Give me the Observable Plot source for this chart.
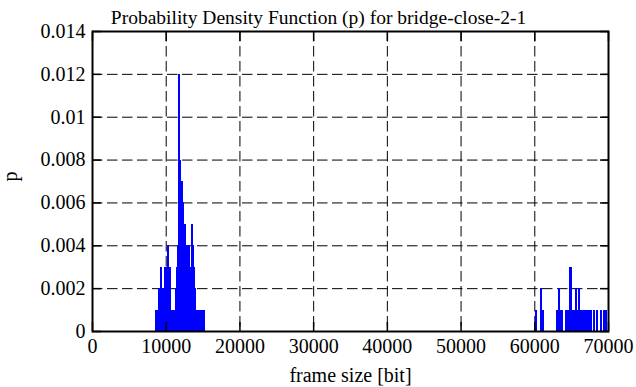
<!DOCTYPE html>
<html>
<head>
<meta charset="utf-8">
<script src="https://cdn.jsdelivr.net/npm/d3@7"></script>
<script src="https://cdn.jsdelivr.net/npm/@observablehq/plot@0.6"></script>
<style>
  html, body { margin: 0; padding: 0; background: #fff; }
  svg text { font-family: 'Liberation Serif', 'Times New Roman', serif !important; }
</style>
</head>
<body>
<div id="chart"></div>
<script>
const titleText = "Probability Density Function (p) for bridge-close-2-1";
const xLabel = "frame size [bit]";
const yLabel = "p";
const xTicks = [0, 10000, 20000, 30000, 40000, 50000, 60000, 70000];
const yTicks = [0, 0.002, 0.004, 0.006, 0.008, 0.010, 0.012, 0.014];

// histogram bins: lower edge, upper edge (bit), probability
const binLo = [8550, 8950, 9225, 9500, 9770, 10175, 10450, 10720, 11260, 11400, 11530, 11630, 11940, 12075, 12345, 12480, 12750, 13300, 13430, 13700, 13840, 13970, 14110,
               60100, 60775, 61050, 62950, 63220, 63490, 64170, 64710, 65120, 65520, 65800, 65930, 66200, 67970, 68370, 68920, 69320];
const binHi = [8950, 9225, 9500, 9770, 10175, 10450, 10720, 11260, 11400, 11530, 11630, 11940, 12075, 12345, 12480, 12750, 13300, 13430, 13700, 13840, 13970, 14110, 15330,
               60370, 61050, 61320, 63220, 63490, 63900, 64710, 65120, 65520, 65800, 65930, 66200, 67830, 68240, 68640, 69190, 69860];
const prob  = [0.001, 0.002, 0.003, 0.002, 0.003, 0.004, 0.003, 0.001, 0.002, 0.003, 0.004, 0.012, 0.008, 0.007, 0.006, 0.005, 0.004, 0.003, 0.005, 0.004, 0.003, 0.002, 0.001,
               0.001, 0.002, 0.001, 0.001, 0.002, 0.001, 0.001, 0.003, 0.001, 0.002, 0.001, 0.002, 0.001, 0.001, 0.001, 0.001, 0.001];

const bins = binLo.map((lo, i) => ({lo, hi: binHi[i], p: prob[i]}));
const yFmt = d => d === 0 ? "0" : String(+d.toFixed(3));
const xFmt = d3.format("d");
const gridX = xTicks.slice(1, -1);
const gridY = yTicks.slice(1, -1);
const serif = "'Liberation Serif', 'Times New Roman', serif";

const chart = Plot.plot({
  width: 636,
  height: 387,
  marginLeft: 92,
  marginRight: 28,
  marginTop: 31,
  marginBottom: 56,
  style: {fontFamily: serif, fontSize: "20px", background: "#fff", color: "#000"},
  x: {domain: [0, 70000], axis: null},
  y: {domain: [0, 0.014], axis: null},
  marks: [
    Plot.ruleX(gridX, {stroke: "#000", strokeWidth: 1, strokeDasharray: "10.5,4.5"}),
    Plot.ruleY(gridY, {stroke: "#000", strokeWidth: 1, strokeDasharray: "10.5,4.5"}),
    Plot.rectY(bins, {x1: "lo", x2: "hi", y: "p", fill: "#0000ff", inset: 0, shapeRendering: "crispEdges"}),
    Plot.text(xTicks, {x: d => d, text: xFmt, frameAnchor: "bottom", lineAnchor: "top", dy: 7, fontSize: 20, fontFamily: serif, fill: "#000"}),
    Plot.text(yTicks, {y: d => d, text: yFmt, frameAnchor: "left", textAnchor: "end", dx: -7, fontSize: 20, fontFamily: serif, fill: "#000"}),
    Plot.axisX({anchor: "bottom", ticks: xTicks, tickSize: -9, tickFormat: () => "", strokeWidth: 1.5, label: null}),
    Plot.axisX({anchor: "top", ticks: xTicks, tickSize: -9, tickFormat: () => "", strokeWidth: 1.5, label: null}),
    Plot.axisY({anchor: "left", ticks: yTicks, tickSize: -9, tickFormat: () => "", strokeWidth: 1.5, label: null}),
    Plot.axisY({anchor: "right", ticks: yTicks, tickSize: -9, tickFormat: () => "", strokeWidth: 1.5, label: null}),
    Plot.frame({stroke: "#000", strokeWidth: 2}),
    Plot.text([titleText], {frameAnchor: "top", lineAnchor: "bottom", dy: -8, dx: -32, fontSize: 19.5, fontFamily: serif, fill: "#000"}),
    Plot.text([xLabel], {frameAnchor: "bottom", dy: 50, fontSize: 20, fontFamily: serif, fill: "#000"}),
    Plot.text([yLabel], {frameAnchor: "left", dx: -82, rotate: -90, fontSize: 20, fontFamily: serif, fill: "#000"})
  ]
});
document.getElementById("chart").appendChild(chart);
</script>
</body>
</html>
